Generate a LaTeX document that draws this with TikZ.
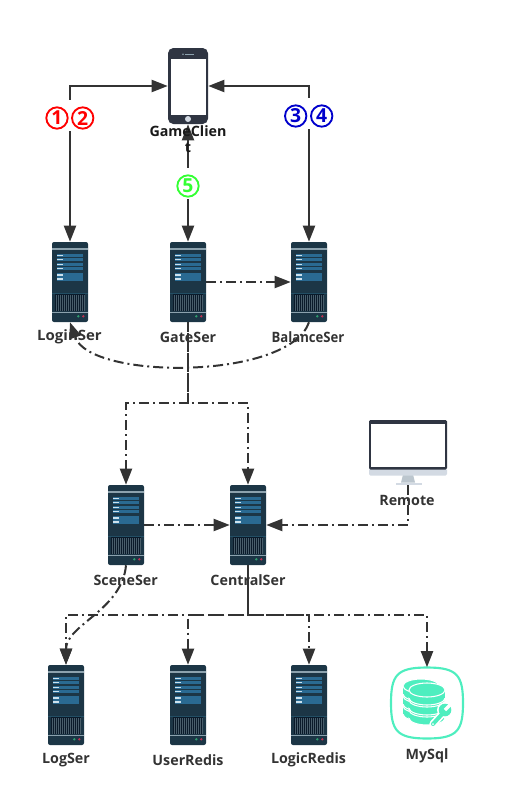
\documentclass[tikz,border=0pt]{standalone}
\usepackage{fontspec}
\setmainfont{Open Sans}
\usepackage{xcolor}
\usetikzlibrary{arrows.meta, positioning, calc}
\definecolor{SrvBody}{RGB}{28,54,70}
\definecolor{SrvBar}{RGB}{140,162,174}
\definecolor{SrvSlot}{RGB}{42,106,146}
\definecolor{SrvLed}{RGB}{205,226,238}
\definecolor{SrvVent}{RGB}{10,26,42}
\definecolor{SrvLine}{RGB}{34,78,100}
\definecolor{SrvGreen}{RGB}{46,158,110}
\definecolor{SrvRed}{RGB}{190,48,80}
\definecolor{IconDark}{RGB}{47,53,66}
\definecolor{IconPale}{RGB}{211,218,227}
\definecolor{IconStand}{RGB}{188,198,206}
\definecolor{DbTeal}{RGB}{78,238,191}
\definecolor{LineDark}{RGB}{51,51,51}
\newcommand{\serverdetail}{%
  \begin{scope}[sharp corners, shift={(path picture bounding box.center)}]
    \fill[SrvBar] (-18,-34) rectangle (18,-32.5);
    \foreach \r in {-28.3,-24.3,-19,-15,-8.7,-4.7} {
      \fill[SrvSlot] (-12.7,\r) rectangle ++(25.7,3.2);
      \fill[SrvLed] (-12.7,{\r+1}) rectangle ++(5.3,1.2);
    }
    \fill[SrvLine] (-18,11.2) rectangle (18,11.9);
    \fill[SrvVent] (-15,11.9) rectangle (15.3,29);
    \foreach \v in {-14,-12,...,14} {
      \fill[SrvBody!80!white] (\v,12.5) rectangle ++(0.6,16);
    }
    \fill[SrvBar] (-18,29.7) rectangle (18,31);
    \fill[SrvGreen] (8.3,34.3) circle (1.3);
    \fill[SrvRed] (13.3,34.3) circle (1.3);
  \end{scope}
}
\tikzset{
  server/.style={rectangle, rounded corners=1.5pt, fill=SrvBody, inner sep=0pt,
                 minimum width=27pt, minimum height=60pt,
                 path picture={\serverdetail}},
  lbl/.style={font=\bfseries\fontsize{10.7pt}{12pt}\selectfont, text=LineDark, inner sep=0pt},
  gapbox/.style={fill=white, inner sep=0pt},
  num/.style={circle, draw=#1, text=#1, fill=white, line width=1.4pt, inner sep=0pt,
              minimum size=16pt, font=\bfseries\fontsize{14.5pt}{15pt}\selectfont},
  link/.style={draw=LineDark, line width=1.5pt},
  two/.style={link, {Triangle[length=12pt,width=9pt]}-{Triangle[length=12pt,width=9pt]}},
  flow/.style={link, -{Triangle[length=12pt,width=9pt]},
               dash pattern=on 7.5pt off 3pt on 1.5pt off 3pt}
}
\begin{document}
\begin{tikzpicture}[x=0.75pt, y=-0.75pt]
  \useasboundingbox (0,0) rectangle (526,807);

  % Client phone
  \node[rectangle, rounded corners=4pt, fill=IconDark, inner sep=0pt,
        minimum width=30pt, minimum height=57pt,
        path picture={
          \begin{scope}[sharp corners, shift={(path picture bounding box.center)}]
            \fill[white] (-17.3,-27.3) rectangle (17.7,29);
            \fill[SrvBar] (-3,-32.2) rectangle (6,-31.4);
            \fill[SrvBar] (-5,-31.8) circle (0.9);
            \fill[IconPale] (0,33) circle (3);
          \end{scope}
        }] (client) at (188,86) {};

  % Remote monitor
  \node[rectangle, inner sep=0pt, minimum width=58.5pt, minimum height=48.75pt,
        path picture={
          \begin{scope}[shift={(path picture bounding box.center)}]
            \fill[IconStand] (-5,22) -- (5,22) -- (7,30) -- (-7,30) -- cycle;
            \fill[IconPale] (-12,30) rectangle ++(26,2.5);
            \fill[IconPale, rounded corners=1pt] (-39,16) rectangle (39,23);
            \fill[IconDark, rounded corners=1pt] (-39,-32.5) rectangle (39,17);
            \fill[white] (-36.7,-28.5) rectangle (37,14);
          \end{scope}
        }] (remote) at (408,452.5) {};

  % Servers
  \foreach \n/\x/\y in {login/70/282, gate/188/282, balance/309/282,
                        scene/126/525, central/248/525,
                        logs/66/705, user/188/705, logic/309/705} {
    \node[server] (\n) at (\x,\y) {};
  }

  % MySql icon
  \node[rectangle, inner sep=0pt, minimum width=54pt, minimum height=53.25pt] (mysql) at (427,703) {};
  \begin{scope}[shift={(mysql.center)}]
    \draw[DbTeal, line width=1.6pt]
      (-36,0) .. controls (-36,-28) and (-30,-35.5) .. (0,-35.5)
              .. controls (30,-35.5) and (36,-28) .. (36,0)
              .. controls (36,28) and (30,35.5) .. (0,35.5)
              .. controls (-30,35.5) and (-36,28) .. (-36,0) -- cycle;
    \foreach \dx/\dy in {-6/3, -6/-7, -6/-17, 0/7, 0/-3, 0/-13} {
      \begin{scope}[shift={(\dx,\dy)}]
        \fill[DbTeal, draw=white, line width=0.8pt] (0,8) ellipse [x radius=18, y radius=7];
        \fill[DbTeal] (-18,0) rectangle (18,8);
        \fill[DbTeal, draw=white, line width=0.8pt] (0,0) ellipse [x radius=18, y radius=7];
      \end{scope}
    }
    \draw[white, line width=5.5pt, line cap=round] (6,21) -- (17,9);
    \fill[white] (18,7) circle (8);
    \draw[DbTeal, line width=3pt, line cap=round] (6,21) -- (17,9);
    \fill[DbTeal] (18,7) circle (6.3);
    \draw[white, line width=2.6pt] (18,7) -- (27,-2);
    \fill[white] (6,21) circle (1);
  \end{scope}

  % Named points of the splits
  \coordinate (splitgate) at (188,403);
  \coordinate (splitcentral) at (248,615);

  % Solid links around the client
  \draw[two] (login.north) |- (client.west);
  \draw[two] (balance.north) |- (client.east);
  \draw[two] (gate.north) -- (client.south);

  % Dash-dot links
  \draw[flow] (gate.east) -- (balance.west);
  \draw[flow] (balance.south) .. controls +(-20,58) and +(20,58) .. (login.south);
  \draw[flow] (gate.south) -- (splitgate) -| (scene.north);
  \draw[flow, dash phase=7pt] (gate.south) -- (splitgate) -| (central.north);
  \draw[flow] (scene.east) -- (central.west);
  \draw[flow] (remote.south) |- (central.east);
  \draw[flow] (central.south) -- (splitcentral) -| (logs.north);
  \draw[flow, dash phase=5pt] (central.south) -- (splitcentral) -| (user.north);
  \draw[flow, dash phase=9pt] (central.south) -- (splitcentral) -| (logic.north);
  \draw[flow, dash phase=3pt] (central.south) -- (splitcentral) -| (mysql.north);
  \draw[flow] (scene.south) .. controls +(-4,45) and +(0,-40) .. (logs.north);

  % Step numbers
  \node[gapbox, minimum width=39pt, minimum height=23pt] (gapa) at (70,115.5) {};
  \node[gapbox, minimum width=39pt, minimum height=23pt] (gapb) at (308.5,113.5) {};
  \node[gapbox, minimum width=18pt, minimum height=23pt] (gapc) at (188,183.5) {};
  \node[num=red] (one) at (57,118) {1};
  \node[num=red] (two) at (82.7,118) {2};
  \node[num={blue!80!black}] (three) at (295.7,116) {3};
  \node[num={blue!80!black}] (four) at (321.7,116) {4};
  \node[num={green!80!white}] (five) at (188,186) {5};

  % Labels
  \node[lbl, text=black!90, align=center] (clientlbl) at (188,139.5) {GameClien\\t};
  \node[lbl] (loginlbl) at (69.5,337) {\scalebox{1.05}[1]{LoginSer}};
  \node[lbl] (gatelbl) at (188,337) {GateSer};
  \node[lbl] (balancelbl) at (308,337) {\scalebox{0.92}[1]{BalanceSer}};
  \node[lbl] (remotelbl) at (407,500) {Remote};
  \node[lbl] (scenelbl) at (125.7,580) {SceneSer};
  \node[lbl] (centrallbl) at (248,580) {CentralSer};
  \node[lbl] (logslbl) at (66,760) {LogSer};
  \node[lbl] (userlbl) at (188,760) {UserRedis};
  \node[lbl] (logiclbl) at (308.5,760) {LogicRedis};
  \node[lbl] (mysqllbl) at (427,755.5) {MySql};
\end{tikzpicture}
\end{document}
